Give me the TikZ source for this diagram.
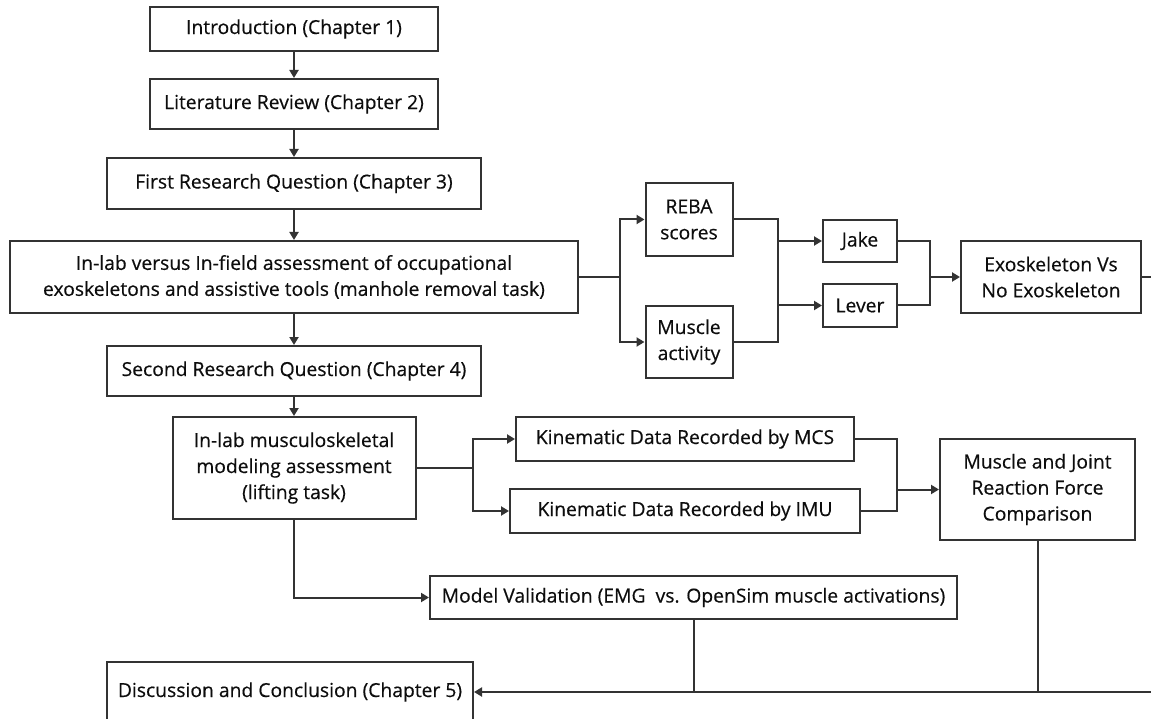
\documentclass[tikz,border=0pt]{standalone}
\usepackage{fontspec}
\setmainfont{Open Sans}[FakeBold=0.4]
\usetikzlibrary{arrows.meta}

\begin{document}
\begin{tikzpicture}[x=1pt,y=-1pt,line width=2pt,black!80]
	\tikzstyle{box}=[draw,rectangle,align=center,inner sep=0pt,text=black!95,font=\fontsize{19.3}{26}\selectfont]
	\tikzstyle{link}=[-{Triangle[length=8pt,width=9pt]}]
	\useasboundingbox[fill=white] (0,0) rectangle (1151,719);

	% main column
	\node[box,minimum width=288pt,minimum height=44pt] (intro) at (294,29) {Introduction (Chapter 1)};
	\node[box,minimum width=288pt,minimum height=50pt] (lit) at (294,104) {Literature Review (Chapter 2)};
	\node[box,minimum width=374pt,minimum height=51pt] (rq1) at (294,183.5) {First Research Question (Chapter 3)};
	\node[box,minimum width=568pt,minimum height=72pt] (inlab1) at (294,277) {In-lab versus In-field assessment of occupational\\exoskeletons and assistive tools (manhole removal task)};
	\node[box,minimum width=374pt,minimum height=50pt] (rq2) at (294,371) {Second Research Question (Chapter 4)};
	\node[box,minimum width=243pt,minimum height=102pt] (inlab2) at (294,468) {In-lab musculoskeletal\\modeling assessment\\(lifting task)};
	\node[box,minimum width=366pt,minimum height=60pt] (disc) at (290,692) {Discussion and Conclusion (Chapter 5)};

	% first question branch
	\node[box,minimum width=87pt,minimum height=73pt] (reba) at (689,219.5) {REBA\\scores};
	\node[box,minimum width=87pt,minimum height=72pt] (musact) at (689,342) {Muscle\\activity};
	\node[box,minimum width=74pt,minimum height=42pt] (jake) at (860,241) {Jake};
	\node[box,minimum width=74pt,minimum height=43pt] (lever) at (860,305.5) {Lever};
	\node[box,minimum width=180pt,minimum height=72pt] (exo) at (1051,277) {Exoskeleton Vs\\No Exoskeleton};

	% second question branch
	\node[box,minimum width=338pt,minimum height=44pt] (mcs) at (685,439) {Kinematic Data Recorded by MCS};
	\node[box,minimum width=350pt,minimum height=44pt] (imu) at (685,511) {Kinematic Data Recorded by IMU};
	\node[box,minimum width=195pt,minimum height=101pt] (mjrf) at (1037.5,489.5) {Muscle and Joint\\Reaction Force\\Comparison};
	\node[box,minimum width=527pt,minimum height=43pt] (valid) at (693.5,597.5) {Model Validation (EMG\ \ vs. OpenSim muscle activations)};

	\coordinate (j1) at (620,277);
	\coordinate (j2) at (778,273);
	\coordinate (j3) at (930,277);
	\coordinate (j4) at (473,468);
	\coordinate (j5) at (897,489.5);
	\coordinate (j6) at (1165,692);

	\foreach \from/\to in {intro/lit,lit/rq1,rq1/inlab1,inlab1/rq2,rq2/inlab2}
	\draw[link] (\from) -- (\to);

	\draw (inlab1) -- (j1);
	\foreach \to in {reba,musact}
	\draw[link] (j1) |- (\to);
	\draw (reba.east) -| (j2) |- (musact.east);
	\foreach \to in {jake,lever}
	\draw[link] (j2 |- \to) -- (\to);
	\draw (jake.east) -| (j3) |- (lever.east);
	\draw[link] (j3) -- (exo);

	\draw (inlab2) -- (j4);
	\foreach \to in {mcs,imu}
	\draw[link] (j4) |- (\to);
	\draw (mcs.east) -| (j5) |- (imu.east);
	\draw[link] (j5) -- (mjrf);
	\draw[link] (inlab2) |- (valid);

	% back to the conclusion
	\draw[link] (exo.east) -| (j6) -- (disc);
	\foreach \from in {valid,mjrf}
	\draw (\from) -- (\from |- disc);

\end{tikzpicture}
\end{document}
